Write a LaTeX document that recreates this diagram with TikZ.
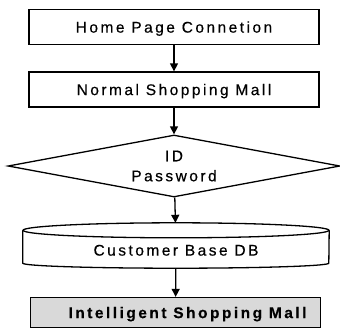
\documentclass[tikz,border=0pt]{standalone}
\usepackage{fontspec}
\setmainfont{Liberation Sans}[LetterSpace=16, FakeBold=0.4]
\usetikzlibrary{arrows.meta,shapes.geometric}

\tikzset{
  x=1pt, y=-1pt,
  every node/.style={font=\fontsize{15.5}{20}\selectfont, inner sep=0pt},
  capcentred/.style={text height=11.2pt, text depth=0pt},
  flowbox/.style={draw, line width=1.3pt, minimum width=290pt, minimum height=35pt, capcentred},
  grayblock/.style={flowbox, fill=black!15, minimum height=30pt, font=\fontsize{15.5}{20}\selectfont\bfseries},
  decision/.style={diamond, draw, line width=1.3pt, shape aspect=5.35,
                   minimum width=332pt, minimum height=62pt, align=center},
  dbbody/.style={minimum width=306pt, minimum height=45pt, text height=20.2pt, text depth=0pt},
  flowarrow/.style={line width=1.3pt, -{Triangle[length=8pt,width=8pt]}}
}

\begin{document}
\begin{tikzpicture}
\useasboundingbox (0,0) rectangle (340,333);

% process steps
\node[flowbox] (home) at (174,27) {Home Page Connetion};
\node[flowbox] (normal) at (174,89.5) {Normal Shopping Mall};
\node[decision] (login) at (174,166) {ID\\Password};

% customer database drawn as a cylinder around the text node
\node[dbbody] (db) at (176,245.5) {Customer Base DB};
\draw[line width=1.3pt]
  ([yshift=-7.5pt]db.north west) -- ([yshift=5pt]db.south west)
  arc[start angle=180, end angle=360, x radius=153pt, y radius=5pt]
  -- ([yshift=-7.5pt]db.north east);
\draw[line width=1.3pt] ([yshift=-7.5pt]db.north)
  ellipse[x radius=153pt, y radius=7.5pt];

\node[grayblock] (smart) at (175.5,312.5)
  {\hspace*{24pt}Intelligent Shopping Mall};

% connectors
\draw[flowarrow] (home) -- (normal);
\draw[flowarrow] (normal) -- (login);
\draw[flowarrow] (login) -- (db);
\draw[flowarrow] (db) -- (smart);
\end{tikzpicture}
\end{document}
